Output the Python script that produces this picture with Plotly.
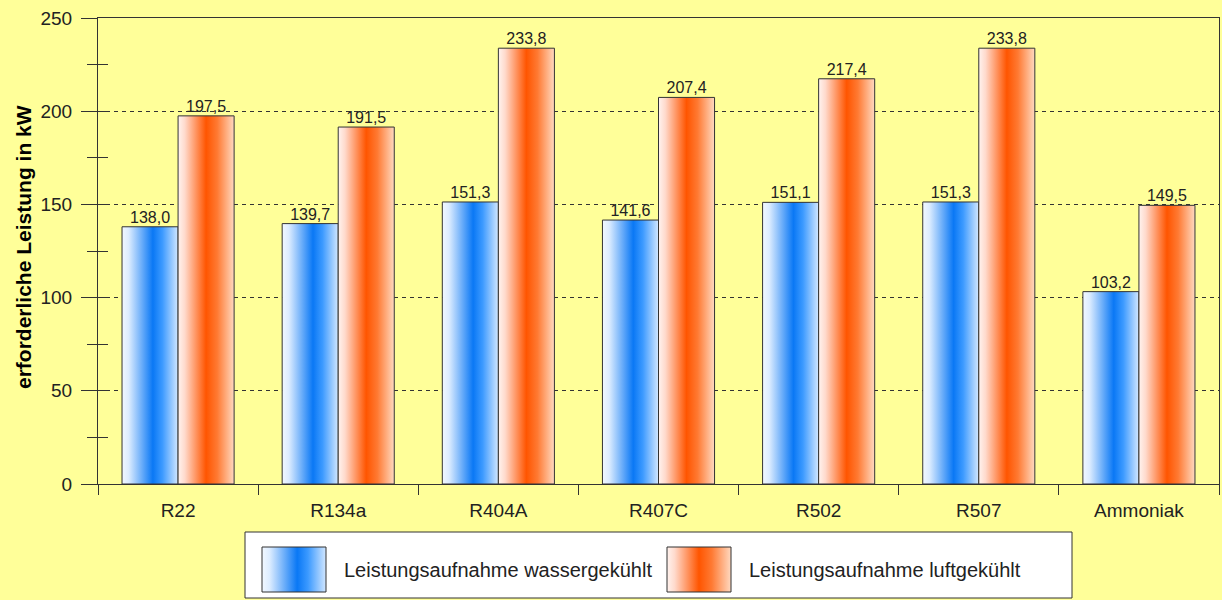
import plotly.graph_objects as go

# ---------------- data ----------------
categories = ["R22", "R134a", "R404A", "R407C", "R502", "R507", "Ammoniak"]
wasser = [138.0, 139.7, 151.3, 141.6, 151.1, 151.3, 103.2]
luft = [197.5, 191.5, 233.8, 207.4, 217.4, 233.8, 149.5]
series_names = ["Leistungsaufnahme wassergekühlt", "Leistungsaufnahme luftgekühlt"]
y_tickvals = [0, 50, 100, 150, 200, 250]
y_title = "erforderliche Leistung in kW"

# ---------------- style ----------------
W, H = 1222, 600
BG = "#FFFF99"
LINE = "#333333"
TXT = "#222222"
FONT = "Arial, Liberation Sans, sans-serif"
blue_scale = [[0, "#F2F8FF"], [0.12, "#DCECFF"], [0.55, "#0A78F5"],
              [0.72, "#3C9AFF"], [1, "#D2E7FF"]]
orange_scale = [[0, "#FFF3EF"], [0.12, "#FFDACC"], [0.5, "#FF5500"],
                [0.7, "#FF7A33"], [1, "#FFD9C0"]]
BAR_W = 0.35

fig = go.Figure()

def fmt(v):
    return f"{v:.1f}".replace(".", ",")

def bar_poly(x0, x1, v, scale, name):
    fig.add_trace(go.Scatter(
        x=[x0, x0, x1, x1, x0], y=[0, v, v, 0, 0],
        mode="lines", fill="toself",
        fillgradient=dict(type="horizontal", colorscale=scale),
        line=dict(color=LINE, width=1),
        name=name, showlegend=False, hoverinfo="skip",
        xaxis="x", yaxis="y"))

for i, cat in enumerate(categories):
    bar_poly(i - BAR_W, i, wasser[i], blue_scale, series_names[0])
    bar_poly(i, i + BAR_W, luft[i], orange_scale, series_names[1])

# data labels
lx = [i - BAR_W / 2 for i in range(len(categories))] + [i + BAR_W / 2 for i in range(len(categories))]
ly = wasser + luft
fig.add_trace(go.Scatter(
    x=lx, y=ly, mode="text", text=[fmt(v) for v in ly],
    textposition="top center", textfont=dict(size=16, color=TXT, family=FONT),
    showlegend=False, hoverinfo="skip", cliponaxis=False,
    xaxis="x", yaxis="y2"))

# ---------------- legend (drawn by hand) ----------------
leg_box = dict(x0=245, x1=1072, y0=532, y1=598)
swatches = [(262, 326), (667, 731)]
sw_y = (547, 592)
leg_text_x = [342, 747]
PAD = 2
extra_axes = {}
for k, ((sx0, sx1), scale, name) in enumerate(zip(swatches, [blue_scale, orange_scale], series_names)):
    ax = k + 3
    fig.add_trace(go.Scatter(
        x=[sx0, sx0, sx1, sx1, sx0], y=[sw_y[1], sw_y[0], sw_y[0], sw_y[1], sw_y[1]],
        mode="lines", fill="toself",
        fillgradient=dict(type="horizontal", colorscale=scale),
        line=dict(color=LINE, width=1), showlegend=False, hoverinfo="skip",
        xaxis=f"x{ax}", yaxis=f"y{ax}"))
    extra_axes[f"xaxis{ax}"] = dict(domain=[(sx0 - PAD) / W, (sx1 + PAD) / W],
                                    range=[sx0 - PAD, sx1 + PAD], visible=False,
                                    anchor=f"y{ax}", fixedrange=True, automargin=False)
    extra_axes[f"yaxis{ax}"] = dict(domain=[1 - (sw_y[1] + PAD) / H, 1 - (sw_y[0] - PAD) / H],
                                    range=[sw_y[1] + PAD, sw_y[0] - PAD], visible=False,
                                    anchor=f"x{ax}", fixedrange=True, automargin=False)

fig.add_shape(type="rect", xref="paper", yref="paper",
              x0=leg_box["x0"] / W, x1=leg_box["x1"] / W,
              y0=1 - leg_box["y1"] / H, y1=1 - leg_box["y0"] / H,
              line=dict(color=LINE, width=1), fillcolor="#FFFFFF", layer="below")
for tx, name in zip(leg_text_x, series_names):
    fig.add_annotation(x=tx / W, y=1 - ((sw_y[0] + sw_y[1]) / 2) / H, xref="paper", yref="paper",
                       text=name, showarrow=False, xanchor="left", yanchor="middle",
                       font=dict(size=20, color=TXT, family=FONT))

# y-axis title
fig.add_annotation(x=24 / W, y=1 - 247 / H, xref="paper", yref="paper",
                   text=y_title, textangle=-90, showarrow=False,
                   xanchor="center", yanchor="middle",
                   font=dict(size=21, color="#000000", family=FONT, weight="bold"))

x_dom = [98 / W, 1219 / W]
y_dom = [1 - 484 / H, 1 - 18 / H]

fig.update_layout(
    width=W, height=H,
    margin=dict(l=0, r=0, t=0, b=0, pad=0, autoexpand=False),
    paper_bgcolor=BG, plot_bgcolor=BG,
    font=dict(family=FONT, color=TXT),
    showlegend=False,
    xaxis=dict(domain=x_dom, range=[-0.5, len(categories) - 0.5], automargin=False,
               tickmode="array", tickvals=list(range(len(categories))), ticktext=categories,
               ticks="outside", ticklen=9, tickcolor="rgba(0,0,0,0)",
               tickfont=dict(size=19, color=TXT, family=FONT),
               showline=True, linecolor=LINE, linewidth=1, mirror=True,
               showgrid=False, zeroline=False, fixedrange=True,
               minor=dict(tickmode="linear", tick0=-0.5, dtick=1,
                          ticks="outside", ticklen=10, tickcolor=LINE, tickwidth=1,
                          showgrid=False)),
    yaxis=dict(domain=y_dom, range=[0, 250], tickmode="array", tickvals=y_tickvals,
               automargin=False,
               ticks="outside", ticklen=16, tickcolor=LINE, tickwidth=1,
               tickfont=dict(size=19, color=TXT, family=FONT), ticklabelstandoff=5,
               showline=True, linecolor=LINE, linewidth=1, mirror=True,
               showgrid=True, gridcolor=LINE, gridwidth=1, griddash="4px,4px",
               zeroline=False, fixedrange=True,
               minor=dict(tickmode="linear", dtick=25, tick0=0, ticks="outside", ticklen=10,
                          tickcolor=LINE, tickwidth=1, showgrid=False)),
    yaxis2=dict(overlaying="y", anchor="x", side="left", range=[0, 250], automargin=False,
                tickmode="array", tickvals=y_tickvals,
                ticks="inside", ticklen=10, tickcolor=LINE, tickwidth=1,
                showticklabels=False, showgrid=False, showline=False, zeroline=False,
                fixedrange=True,
                minor=dict(tickmode="linear", dtick=25, tick0=0, ticks="inside", ticklen=10,
                           tickcolor=LINE, tickwidth=1, showgrid=False)),
    **extra_axes,
)

fig.write_html("out.html", config={"displayModeBar": False, "staticPlot": True},
               post_script="document.body.style.margin='0';")
